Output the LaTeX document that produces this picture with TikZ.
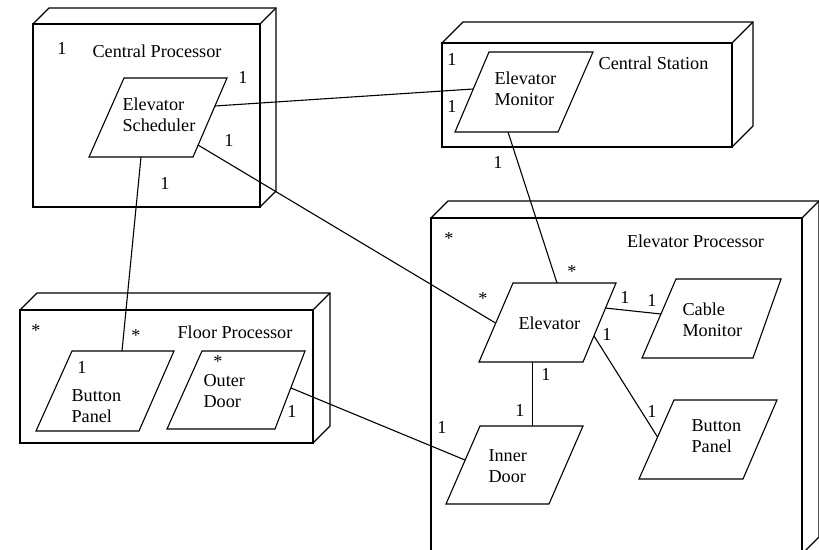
\documentclass[tikz,border=0pt]{standalone}
\usepackage{fontspec}
\setmainfont{Liberation Serif}
\newfontfamily\diagramfont{Liberation Serif}
\usetikzlibrary{calc}

% side and top faces of a device box (node name, depth)
\newcommand\devicedepth[2]{%
  \draw (#1.north west) -- ++(#2,-#2) -- ([shift={(#2,-#2)}]#1.north east)
        -- ([shift={(#2,-#2)}]#1.south east) -- (#1.south east);
  \draw (#1.north east) -- ++(#2,-#2);}

% component outline (name, top left, top right, bottom right, bottom left)
\newcommand\component[5]{%
  \coordinate (#1-tl) at (#2);
  \coordinate (#1-tr) at (#3);
  \coordinate (#1-br) at (#4);
  \coordinate (#1-bl) at (#5);
  \draw (#1-tl) -- (#1-tr) -- (#1-br) -- (#1-bl) -- cycle;}

\begin{document}
\begin{tikzpicture}[x=1pt,y=-1pt,
  line width=1.1pt, line join=miter,
  font=\diagramfont\fontsize{18.2}{21}\selectfont,
  device/.style={draw, rectangle, inner sep=0pt, outer sep=0pt},
  caption/.style={inner sep=0pt},
  body/.style={inner sep=0pt, align=left, anchor=west},
  mult/.style={inner sep=0pt},
  many/.style={inner sep=0pt, yshift=-3pt},
  link/.style={draw}]

\fill[white] (0,0) rectangle (819,549);
\useasboundingbox (0,0) rectangle (819,549);
\clip (0,0) rectangle (819,549);

% devices
\node[device, minimum width=227pt, minimum height=183pt] (cpu) at (146.5,115.5) {};
\devicedepth{cpu}{16}
\node[device, minimum width=290pt, minimum height=104pt] (cst) at (587,95) {};
\devicedepth{cst}{21}
\node[device, minimum width=293pt, minimum height=133pt] (fpu) at (166.5,376.5) {};
\devicedepth{fpu}{17}
\node[device, minimum width=371pt, minimum height=336pt] (epu) at (616.5,386) {};
\devicedepth{epu}{17}

\node[caption] (cpu-t) at (157,51) {Central Processor};
\node[caption] (cst-t) at (653.5,63) {Central Station};
\node[caption] (fpu-t) at (235,332) {Floor Processor};
\node[caption] (epu-t) at (695.5,241) {Elevator Processor};

% components
\component{sch}{124,78}{227,78}{193,157}{89,157}
\node[body] (sch-t) at (122,115) {Elevator\\Scheduler};

\component{mon}{489,52}{593,52}{558,132}{455,132}
\node[body] (mon-t) at (494,89) {Elevator\\Monitor};

\component{fbp}{72,351}{174,351}{139,431}{36,431}
\node[body] (fbp-t) at (71,406) {Button\\Panel};

\component{odr}{202,351}{305,351}{275,429}{167,429}
\node[body] (odr-t) at (203,391.5) {Outer\\Door};

\component{elv}{513,283}{616,283}{583,362}{479,362}
\node[body] (elv-t) at (518,323) {Elevator};

\component{cab}{676,279}{781,279}{753,358}{642,358}
\node[body] (cab-t) at (682,319.5) {Cable\\Monitor};

\component{ebp}{674,400}{777,400}{743,479}{639,479}
\node[body] (ebp-t) at (691,436.5) {Button\\Panel};

\component{idr}{480,426}{583,426}{549,504}{446,504}
\node[body] (idr-t) at (488,466.5) {Inner\\Door};

% connector ends
\coordinate (sch-e1) at (215,106);
\coordinate (sch-e2) at (198,145);
\coordinate (sch-s)  at (141,157);
\coordinate (mon-w)  at (473,89);
\coordinate (mon-s)  at (508,132);
\coordinate (fbp-n)  at (122,351);
\coordinate (odr-e)  at (291,388);
\coordinate (elv-n)  at (557,283);
\coordinate (elv-w)  at (495.5,323);
\coordinate (elv-e1) at (605,308);
\coordinate (elv-e2) at (594,336);
\coordinate (elv-s)  at (532.5,362);
\coordinate (cab-w)  at (661,314);
\coordinate (ebp-w)  at (657.5,437);
\coordinate (idr-w)  at (465,460);
\coordinate (idr-n)  at (532.5,426);

% connectors
\draw[link] (sch-e1) -- (mon-w);
\draw[link] (sch-e2) -- (elv-w);
\draw[link] (sch-s)  -- (fbp-n);
\draw[link] (mon-s)  -- (elv-n);
\draw[link] (odr-e)  -- (idr-w);
\draw[link] (elv-e1) -- (cab-w);
\draw[link] (elv-e2) -- (ebp-w);
\draw[link] (elv-s)  -- (idr-n);

% multiplicities
\node[mult] (m1)  at (62,48)   {1};
\node[mult] (m2)  at (243,77)  {1};
\node[mult] (m3)  at (229,140) {1};
\node[mult] (m4)  at (165,183) {1};
\node[mult] (m5)  at (452,59)  {1};
\node[mult] (m6)  at (452,106) {1};
\node[mult] (m7)  at (498,162) {1};
\node[many] (m8)  at (36,328)  {*};
\node[many] (m9)  at (136,333) {*};
\node[mult] (m10) at (82,367)  {1};
\node[many] (m11) at (218,359) {*};
\node[mult] (m12) at (292,411) {1};
\node[many] (m13) at (449,236) {*};
\node[many] (m14) at (572,269) {*};
\node[many] (m15) at (483,296) {*};
\node[mult] (m16) at (625,297) {1};
\node[mult] (m17) at (652,300) {1};
\node[mult] (m18) at (607,334) {1};
\node[mult] (m19) at (546,374) {1};
\node[mult] (m20) at (520,410) {1};
\node[mult] (m21) at (652,411) {1};
\node[mult] (m22) at (442,427) {1};
\end{tikzpicture}
\end{document}
